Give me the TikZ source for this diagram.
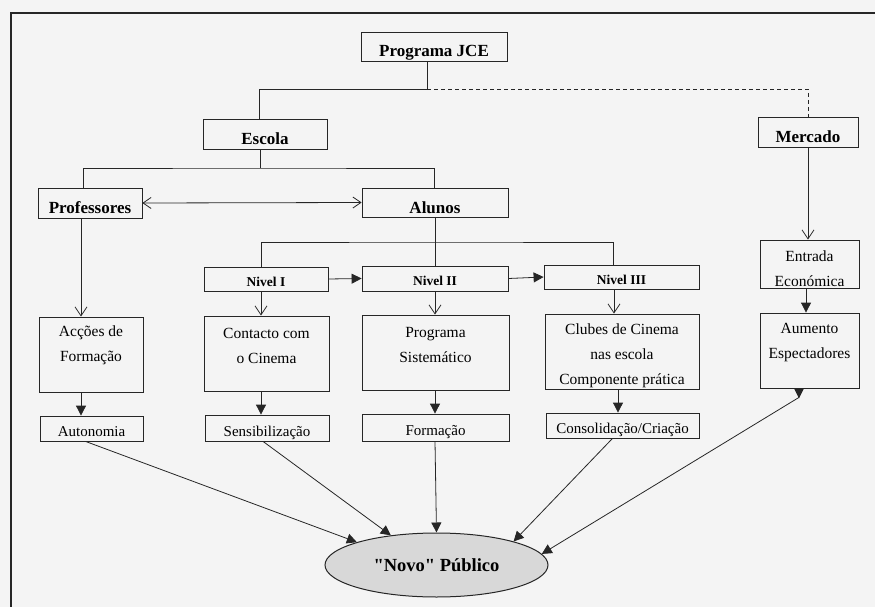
\documentclass[tikz,border=0pt]{standalone}
\usepackage{fontspec}
\setmainfont{Liberation Serif}
\newfontfamily\qfont{Liberation Serif}[Ligatures=TeXOff]
\usetikzlibrary{arrows.meta,shapes.geometric}
\definecolor{bg}{HTML}{F4F4F4}
\definecolor{ln}{HTML}{262626}
\definecolor{ellfill}{HTML}{D8D8D8}
\begin{document}
\begin{tikzpicture}[x=1pt,y=-1pt,
  box/.style={draw=ln, line width=0.8pt, rectangle, inner sep=0pt, align=center},
  big/.style={box, font=\fontsize{17}{20}\selectfont\bfseries, text height=21pt, text depth=0pt},
  niv/.style={box, font=\fontsize{13.5}{16}\selectfont\bfseries, text height=14.5pt, text depth=0pt},
  low/.style={box, font=\fontsize{15}{18}\selectfont, text height=16pt, text depth=0pt},
  cbox/.style={box},
  ctext/.style={font=\fontsize{15.5}{25}\selectfont, align=center, inner sep=0pt},
  conn/.style={draw=ln, line width=0.8pt},
  oarr/.style={conn, -{Straight Barb[length=9pt,width=12pt]}},
  darr/.style={conn, {Straight Barb[length=8pt,width=11pt]}-{Straight Barb[length=8pt,width=11pt]}},
  farr/.style={conn, -{Triangle[length=10pt,width=10pt]}},
]
\fill[bg] (0,0) rectangle (875,607);
\useasboundingbox (0,0) rectangle (875,607);
% outer frame
\draw[ln, line width=1.5pt] (11,607) -- (11,13) -- (875,13);

% top level
\node[big, minimum width=146pt, minimum height=29pt] (jce) at (434,46.5) {Programa JCE};
\node[big, minimum width=124pt, minimum height=30pt] (escola) at (265,134) {Escola};
\node[big, minimum width=100pt, minimum height=30pt] (mercado) at (808,132) {Mercado};
\node[big, minimum width=104pt, minimum height=30pt] (prof) at (90,203) {Professores};
\node[big, minimum width=146pt, minimum height=29pt] (alunos) at (435,202.5) {Alunos};

% levels
\node[niv, minimum width=124pt, minimum height=24pt] (n1) at (266,279) {Nivel I};
\node[niv, minimum width=146pt, minimum height=25pt] (n2) at (435,278.5) {Nivel II};
\node[niv, minimum width=155pt, minimum height=24pt] (n3) at (621.5,277) {Nivel III};

% content boxes
\node[cbox, minimum width=104pt, minimum height=75pt] (acc) at (91,354.5) {};
\node[cbox, minimum width=125pt, minimum height=75pt] (cont) at (266.5,353.5) {};
\node[cbox, minimum width=147pt, minimum height=75pt] (prog) at (435.5,352.5) {};
\node[cbox, minimum width=154pt, minimum height=75pt] (club) at (622,351.5) {};
\node[cbox, minimum width=99pt, minimum height=48pt] (entr) at (809.5,264) {};
\node[cbox, minimum width=99pt, minimum height=75pt] (aum) at (809.5,350.5) {};
\node[ctext] (acct) at (91,345.5) {Acções de\\Formação};
\node[ctext] (contt) at (266.5,345.5) {Contacto com\\o Cinema};
\node[ctext] (progt) at (435.5,344.5) {Programa\\Sistemático};
\node[ctext] (clubt) at (622,356) {Clubes de Cinema\\nas escola\\Componente prática};
\node[ctext] (entrt) at (809.5,269) {Entrada\\Económica};
\node[ctext] (aumt) at (809.5,343) {Aumento\\Espectadores};

% bottom boxes
\node[low, minimum width=103pt, minimum height=25pt] (auto) at (91.5,428.5) {Autonomia};
\node[low, minimum width=124pt, minimum height=26pt] (sens) at (267,428) {Sensibilização};
\node[low, minimum width=147pt, minimum height=27pt] (form) at (435.5,427.5) {Formação};
\node[low, minimum width=153pt, minimum height=25pt] (cons) at (622.5,425.5) {Consolidação/Criação};

% ellipse
\node[ellipse, draw=ln, line width=1pt, fill=ellfill, minimum width=223pt, minimum height=64pt, inner sep=0pt,
      font=\fontsize{18.5}{22}\selectfont\qfont\bfseries] (novo) at (436.5,565) {"Novo" Público};

% tree connectors
\coordinate (j1) at (427,89);
\draw[conn] ([xshift=-7pt]jce.south) -- (j1) -| ([xshift=-6pt]escola.north);
\draw[conn, dashed, dash pattern=on 4pt off 3pt] (j1) -| (mercado.north);
\coordinate (e1) at (260,168);
\draw[conn] ([xshift=-5pt]escola.south) -- (e1);
\draw[conn] ([xshift=-7pt]prof.north) |- (e1) -| ([xshift=-1pt]alunos.north);
\draw[darr] (prof.east) -- (alunos.west);
\coordinate (a1) at (435,242);
\draw[conn] (alunos.south) -- (n2.north);
\draw[conn] ([xshift=-5pt]n1.north) |- (a1) -| ([xshift=-8.5pt]n3.north);
\draw[farr] (n1.east) -- (n2.west);
\draw[farr] (n2.east) -- (n3.west);

% open arrows down
\draw[oarr] ([xshift=-9pt]prof.south) -- ([xshift=-9pt]prof.south |- acc.north);
\draw[oarr] ([xshift=-5pt]n1.south) -- ([xshift=-5pt]n1.south |- cont.north);
\draw[oarr] (n2.south) -- (n2.south |- prog.north);
\draw[oarr] ([xshift=-7.5pt]n3.south) -- ([xshift=-7.5pt]n3.south |- club.north);
\draw[oarr] (mercado.south) -- (mercado.south |- entr.north);

% filled arrows down
\draw[farr] ([xshift=-3.5pt]entr.south) -- ([xshift=-3.5pt]entr.south |- aum.north);
\draw[farr] ([xshift=-10pt]acc.south) -- ([xshift=-10pt]acc.south |- auto.north);
\draw[farr] ([xshift=-5.5pt]cont.south) -- ([xshift=-5.5pt]cont.south |- sens.north);
\draw[farr] ([xshift=-0.5pt]prog.south) -- ([xshift=-0.5pt]prog.south |- form.north);
\draw[farr] ([xshift=-4pt]club.south) -- ([xshift=-4pt]club.south |- cons.north);

% arrows into ellipse
\draw[farr] ([xshift=-6pt]auto.south) -- (novo.164.6);
\draw[farr] ([xshift=-4pt]sens.south) -- (novo.147);
\draw[farr] ([xshift=-0.5pt]form.south) -- (novo.90);
\draw[farr] ([xshift=-10pt]cons.south) -- (novo.17);
\draw[farr] ([xshift=-10.5pt,yshift=-9pt]aum.south) -- (novo.6);
\fill[ln] ([xshift=-15.5pt]aum.south) -- ([xshift=-5.5pt]aum.south) -- ([xshift=-10.5pt,yshift=-10pt]aum.south) -- cycle;
\end{tikzpicture}
\end{document}
